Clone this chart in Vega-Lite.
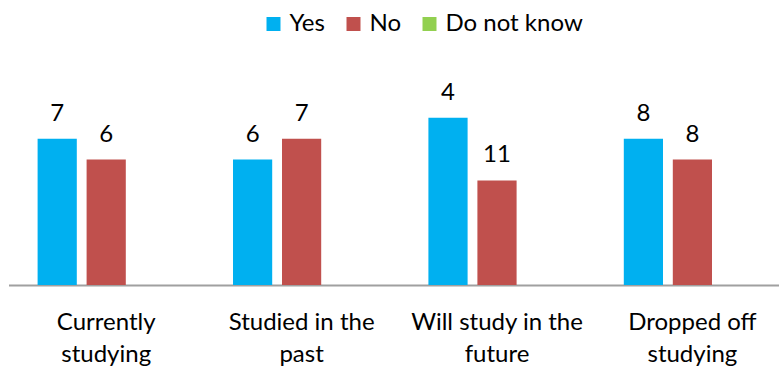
{
  "$schema": "https://vega.github.io/schema/vega-lite/v6.json",
  "autosize": {"type": "none"},
  "width": 770.5,
  "height": 230,
  "padding": {"left": 8.5, "top": 55, "right": 0, "bottom": 83},
  "background": "white",
  "config": {"view": {"stroke": null}, "font": "Lato"},
  "data": {
    "values": [
      {"category": "Currently studying", "series": "Yes", "value": 7, "label": 7},
      {"category": "Currently studying", "series": "No", "value": 6, "label": 6},
      {"category": "Currently studying", "series": "Do not know", "value": 0, "label": null},
      {"category": "Studied in the past", "series": "Yes", "value": 6, "label": 6},
      {"category": "Studied in the past", "series": "No", "value": 7, "label": 7},
      {"category": "Studied in the past", "series": "Do not know", "value": 0, "label": null},
      {"category": "Will study in the future", "series": "Yes", "value": 8, "label": 4},
      {"category": "Will study in the future", "series": "No", "value": 5, "label": 11},
      {"category": "Will study in the future", "series": "Do not know", "value": 0, "label": null},
      {"category": "Dropped off studying", "series": "Yes", "value": 7, "label": 8},
      {"category": "Dropped off studying", "series": "No", "value": 6, "label": 8},
      {"category": "Dropped off studying", "series": "Do not know", "value": 0, "label": null}
    ]
  },
  "encoding": {
    "x": {
      "field": "category",
      "type": "nominal",
      "sort": null,
      "scale": {"paddingInner": 0, "paddingOuter": 0, "range": [0, 781.6]},
      "axis": {
        "title": null,
        "ticks": false,
        "grid": false,
        "domain": true,
        "domainColor": "#A0A0A0",
        "domainWidth": 2,
        "labelAngle": 0,
        "labelFont": "Lato",
        "labelFontSize": 24,
        "labelColor": "#000000",
        "labelBaseline": "alphabetic",
        "labelPadding": 44,
        "labelLineHeight": 32,
        "labelExpr": "[slice(datum.value, 0, lastindexof(datum.value, ' ')), slice(datum.value, lastindexof(datum.value, ' ') + 1)]"
      }
    },
    "xOffset": {
      "field": "series",
      "type": "nominal",
      "sort": ["Yes", "No", "Do not know"],
      "scale": {"paddingInner": 0.2, "paddingOuter": 0.594}
    },
    "y": {
      "field": "value",
      "type": "quantitative",
      "scale": {"domain": [0, 11], "nice": false},
      "axis": null
    }
  },
  "layer": [
    {
      "mark": {"type": "bar"},
      "encoding": {
        "color": {
          "field": "series",
          "type": "nominal",
          "scale": {"domain": ["Yes", "No", "Do not know"], "range": ["#00B0F0", "#C0504D", "#92D050"]},
          "legend": {
            "title": null,
            "orient": "none",
            "direction": "horizontal",
            "legendX": 253,
            "legendY": -43,
            "symbolType": "square",
            "symbolSize": 196,
            "symbolStrokeWidth": 0,
            "labelFont": "Lato",
            "labelFontSize": 24,
            "labelColor": "#000000",
            "labelOffset": 4,
            "columnPadding": 16
          }
        }
      }
    },
    {
      "transform": [{"filter": "datum.label != null"}],
      "mark": {"type": "text", "font": "Lato", "fontSize": 24, "color": "#000000", "baseline": "alphabetic", "dy": -18},
      "encoding": {
        "text": {"field": "label", "type": "quantitative"}
      }
    }
  ]
}
